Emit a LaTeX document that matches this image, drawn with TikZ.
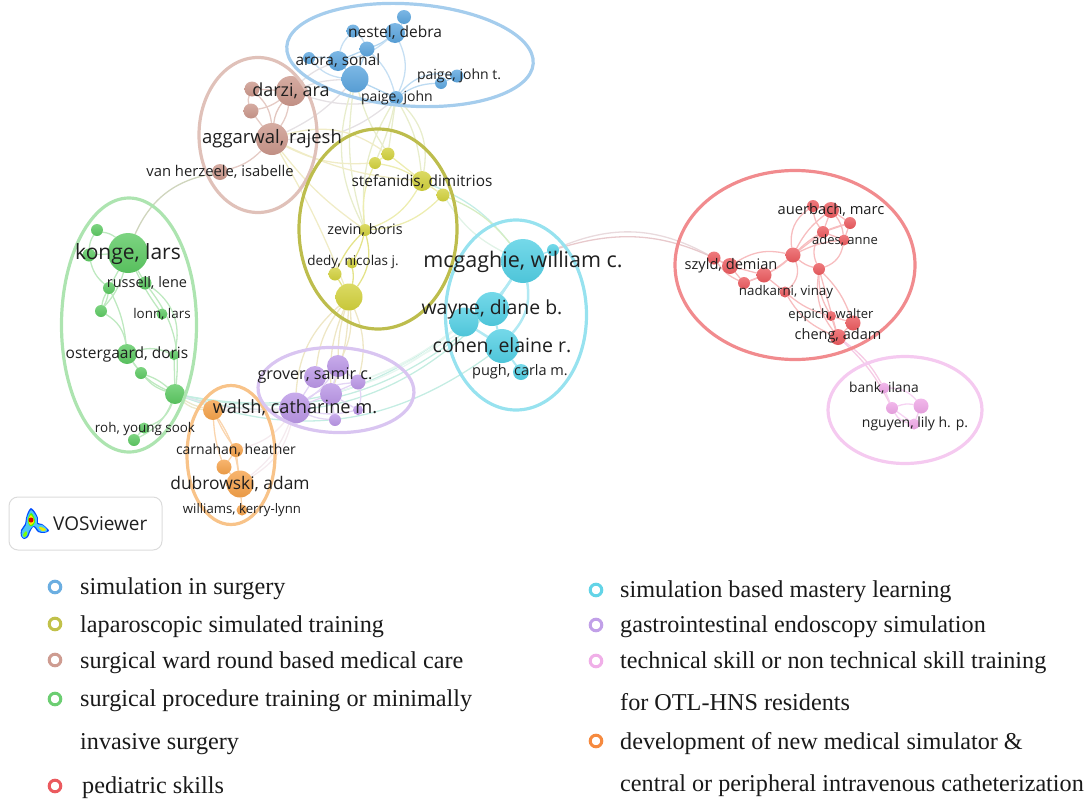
\documentclass[tikz,border=0pt]{standalone}
\usepackage{fontspec}
\setmainfont{Liberation Serif}
\newfontfamily\opensans{Open Sans}
\usetikzlibrary{shapes.geometric}
\usetikzlibrary{backgrounds}

\definecolor{cblue}{HTML}{5BA5DE}
\definecolor{cyellow}{HTML}{D2D13C}
\definecolor{cbrown}{HTML}{CB978B}
\definecolor{cgreen}{HTML}{5CC962}
\definecolor{cred}{HTML}{EB5A5E}
\definecolor{ccyan}{HTML}{52CFE4}
\definecolor{cpurple}{HTML}{BA96E6}
\definecolor{corange}{HTML}{F5A24A}
\definecolor{cpink}{HTML}{EEA6E6}

\tikzset{
  bub/.style={circle, inner sep=0pt, outer sep=0pt, draw=none, minimum size=#1},
  bblue/.style={bub=#1, top color=cblue!80!white, bottom color=cblue!95!black},
  byellow/.style={bub=#1, top color=cyellow!80!white, bottom color=cyellow!95!black},
  bbrown/.style={bub=#1, top color=cbrown!80!white, bottom color=cbrown!95!black},
  bgreen/.style={bub=#1, top color=cgreen!80!white, bottom color=cgreen!95!black},
  bred/.style={bub=#1, top color=cred!80!white, bottom color=cred!95!black},
  bcyan/.style={bub=#1, top color=ccyan!80!white, bottom color=ccyan!95!black},
  bpurple/.style={bub=#1, top color=cpurple!80!white, bottom color=cpurple!95!black},
  borange/.style={bub=#1, top color=corange!80!white, bottom color=corange!95!black},
  bpink/.style={bub=#1, top color=cpink!80!white, bottom color=cpink!95!black},
  ring/.style={ellipse, inner sep=0pt, outer sep=0pt, line width=3.2pt, draw=#1},
  lab/.style={inner sep=0pt, text=black!88, font={\opensans\fontsize{#1}{#1}\selectfont}},
  lnk/.style={line width=1.3pt, draw=#1},
  legdot/.style={circle, inner sep=0pt, minimum size=11.6pt, line width=3pt, draw=#1},
  legtxt/.style={anchor=base west, inner sep=0pt, text=black!90, font=\fontsize{24.2}{24.2}\selectfont},
}

\begin{document}
\begin{tikzpicture}[x=1pt, y=-1pt]
  \useasboundingbox (0,0) rectangle (1084,806);

  % blue
  \node[bblue=14] (btop) at (404,17) {};
  \node[bblue=20] (nestel) at (395,33) {};
  \node[bblue=13] (bleft) at (353,31) {};
  \node[bblue=15] (bmid) at (367,49) {};
  \node[bblue=20] (arora) at (338,61) {};
  \node[bblue=12] (bside) at (309,58) {};
  \node[bblue=27] (bbig) at (355,79) {};
  \node[bblue=14] (paigej) at (396,98) {};
  \node[bblue=13] (paiget) at (457,76) {};
  \node[bblue=12] (paigetb) at (441,83) {};
  % brown
  \node[bbrown=30] (darzi) at (291,91) {};
  \node[bbrown=15] (brup) at (252,89) {};
  \node[bbrown=15] (brlow) at (251,111) {};
  \node[bbrown=32] (aggarwal) at (272,139) {};
  \node[bbrown=16] (herzeele) at (220,172) {};
  % yellow
  \node[byellow=12] (yleft) at (375,163) {};
  \node[byellow=13] (yup) at (388,154) {};
  \node[byellow=20] (stefanidis) at (422,181) {};
  \node[byellow=13] (yright) at (443,195) {};
  \node[byellow=12] (zevin) at (365,230) {};
  \node[byellow=11] (dedy) at (352,263) {};
  \node[byellow=13] (ylow) at (335,274) {};
  \node[byellow=27] (ybig) at (349,297) {};
  % green
  \node[bgreen=12] (gtop) at (97,230) {};
  \node[bgreen=40] (konge) at (128,253) {};
  \node[bgreen=13] (gside) at (89,255) {};
  \node[bgreen=12] (russell) at (109,288) {};
  \node[bgreen=13] (gru) at (145,283) {};
  \node[bgreen=12] (gmid) at (101,311) {};
  \node[bgreen=11] (lonn) at (162,314) {};
  \node[bgreen=20] (ostergaard) at (127,354) {};
  \node[bgreen=10] (gdor) at (174,355) {};
  \node[bgreen=12] (gsub) at (141,373) {};
  \node[bgreen=20] (gbig) at (175,394) {};
  \node[bgreen=11] (roh) at (144,428) {};
  \node[bgreen=12] (rohb) at (134,440) {};
  % orange
  \node[borange=20] (walsho) at (213,410) {};
  \node[borange=14] (carnahan) at (236,450) {};
  \node[borange=15] (oleft) at (224,467) {};
  \node[borange=27] (dubrowski) at (240,484) {};
  \node[borange=11] (williams) at (242,510) {};
  % purple
  \node[bpurple=22] (ptop) at (338,366) {};
  \node[bpurple=22] (grover) at (315,377) {};
  \node[bpurple=15] (pright) at (358,382) {};
  \node[bpurple=22] (pmid) at (331,394) {};
  \node[bpurple=31] (walshp) at (295,408) {};
  \node[bpurple=12] (plow) at (335,420) {};
  \node[bpurple=10] (pend) at (358,410) {};
  % cyan
  \node[bcyan=44] (mcgaghie) at (523,261) {};
  \node[bcyan=12] (csmall) at (553,250) {};
  \node[bcyan=34] (wayne) at (492,309) {};
  \node[bcyan=29] (cleft) at (464,322) {};
  \node[bcyan=34] (cohen) at (502,346) {};
  \node[bcyan=16] (pugh) at (521,372) {};
  % red
  \node[bred=13] (rfar) at (714,258) {};
  \node[bred=16] (szyld) at (730,266) {};
  \node[bred=12] (rlow) at (744,283) {};
  \node[bred=15] (rmid) at (764,275) {};
  \node[bred=15] (rhub) at (793,255) {};
  \node[bred=12] (rhubb) at (819,269) {};
  \node[bred=11] (nadkarni) at (785,292) {};
  \node[bred=12] (rtop) at (813,206) {};
  \node[bred=16] (auerbach) at (831,210) {};
  \node[bred=12] (rside) at (850,223) {};
  \node[bred=12] (rinner) at (823,232) {};
  \node[bred=11] (ades) at (844,240) {};
  \node[bred=10] (eppich) at (831,316) {};
  \node[bred=15] (rpair) at (853,323) {};
  \node[bred=16] (cheng) at (838,337) {};
  % pink
  \node[bpink=11] (bank) at (884,388) {};
  \node[bpink=12] (pkmid) at (892,408) {};
  \node[bpink=15] (pkright) at (921,406) {};
  \node[bpink=11] (nguyen) at (914,424) {};

  \begin{scope}[on background layer]
    % blue links
    \draw[lnk=cblue!35] (nestel) to[bend right=10] (btop);
    \draw[lnk=cblue!45] (nestel) to[bend left=8] (bmid);
    \draw[lnk=cblue!35] (bleft) to[bend left=15] (bmid);
    \draw[lnk=cblue!35] (bleft) to[bend right=15] (arora);
    \draw[lnk=cblue!35] (nestel) to[bend left=15] (arora);
    \draw[lnk=cblue!45] (bmid) -- (arora);
    \draw[lnk=cblue!45] (bmid) -- (bbig);
    \draw[lnk=cblue!45] (arora) -- (bbig);
    \draw[lnk=cblue!35] (bside) to[bend right=20] (bbig);
    \draw[lnk=cblue!35] (bside) to[bend left=10] (arora);
    \draw[lnk=cblue!35] (nestel) to[bend left=25] (paigej);
    \draw[lnk=cblue!35] (bmid) to[bend left=15] (paigej);
    \draw[lnk=cblue!45] (bbig) -- (paigej);
    \draw[lnk=cblue!40] (paigej) to[bend left=30] (paiget);
    \draw[lnk=cblue!40] (paigej) to[bend left=15] (paigetb);
    \draw[lnk=cblue!50] (paiget) -- (paigetb);
    % brown links
    \draw[lnk=cbrown!50] (darzi) -- (brup);
    \draw[lnk=cbrown!50] (darzi) to[bend left=12] (brlow);
    \draw[lnk=cbrown!50] (brup) to[bend right=20] (brlow);
    \draw[lnk=cbrown!50] (brup) to[bend left=20] (aggarwal);
    \draw[lnk=cbrown!50] (brlow) -- (aggarwal);
    \draw[lnk=cbrown!55] (darzi) to[bend right=15] (aggarwal);
    \draw[lnk=cbrown!50] (darzi) to[bend left=12] (aggarwal);
    \draw[lnk=cbrown!50] (herzeele) to[bend right=15] (aggarwal);
    \draw[lnk=cblue!30!cbrown!30] (darzi) to[bend left=10] (arora);
    \draw[lnk=cblue!30!cbrown!30] (darzi) to[bend left=8] (bbig);
    \draw[lnk=cblue!30!cbrown!30] (darzi) to[bend right=15] (paigej);
    \draw[lnk=cblue!30!cbrown!30] (aggarwal) to[bend right=20] (paigej);
    \draw[lnk=cblue!30!cbrown!30] (aggarwal) to[bend right=10] (bbig);
    % blue to yellow
    \draw[lnk=cblue!22!cyellow!32] (bbig) to[bend right=12] (zevin);
    \draw[lnk=cblue!22!cyellow!32] (bbig) to[bend right=22] (zevin);
    \draw[lnk=cblue!22!cyellow!32] (paigej) to[bend right=18] (zevin);
    \draw[lnk=cblue!22!cyellow!32] (paigej) to[bend left=5] (yleft);
    \draw[lnk=cblue!22!cyellow!32] (paigej) -- (yup);
    \draw[lnk=cblue!22!cyellow!32] (paigej) to[bend left=12] (stefanidis);
    \draw[lnk=cblue!22!cyellow!32] (paigej) to[bend left=28] (stefanidis);
    \draw[lnk=cblue!22!cyellow!32] (bbig) to[bend right=8] (yup);
    % brown to yellow
    \draw[lnk=cbrown!25!cyellow!32] (aggarwal) to[bend left=25] (yup);
    \draw[lnk=cbrown!25!cyellow!32] (aggarwal) to[bend right=15] (yleft);
    \draw[lnk=cbrown!25!cyellow!32] (aggarwal) to[bend right=10] (stefanidis);
    \draw[lnk=cbrown!25!cyellow!32] (aggarwal) to[bend right=8] (zevin);
    \draw[lnk=cbrown!25!cyellow!32] (aggarwal) to[bend left=4] (ybig);
    % yellow links
    \draw[lnk=cyellow!40] (yleft) to[bend right=15] (zevin);
    \draw[lnk=cyellow!40] (yup) -- (yleft);
    \draw[lnk=cyellow!40] (yup) -- (stefanidis);
    \draw[lnk=cyellow!40] (yleft) to[bend left=10] (stefanidis);
    \draw[lnk=cyellow!40] (stefanidis) -- (yright);
    \draw[lnk=cyellow!40] (stefanidis) to[bend left=20] (zevin);
    \draw[lnk=cyellow!40] (zevin) to[bend right=20] (yright);
    \draw[lnk=cyellow!60] (zevin) to[bend left=25] (ybig);
    \draw[lnk=cyellow!60] (zevin) to[bend right=10] (ylow);
    \draw[lnk=cyellow!60] (zevin) to[bend left=8] (dedy);
    \draw[lnk=cyellow!60] (dedy) to[bend left=10] (ybig);
    \draw[lnk=cyellow!60] (ylow) -- (ybig);
    % yellow and cyan, across the rings
    \draw[lnk=cgreen!35!ccyan!35] (stefanidis) to[bend left=15] (mcgaghie);
    \draw[lnk=cyellow!40!cgreen!35] (yright) to[bend left=14] (mcgaghie);
    \draw[lnk=cyellow!40!ccyan!25] (yright) to[bend right=15] (mcgaghie);
    % yellow to purple
    \draw[lnk=cbrown!40!cyellow!35] (ybig) to[bend right=22] (walshp);
    \draw[lnk=cbrown!40!cyellow!35] (ybig) to[bend right=15] (grover);
    \draw[lnk=cbrown!40!cyellow!35] (ybig) to[bend right=12] (pmid);
    \draw[lnk=cbrown!40!cyellow!35] (ybig) to[bend right=8] (ptop);
    \draw[lnk=cbrown!40!cyellow!35] (ybig) to[bend left=15] (ptop);
    \draw[lnk=cbrown!40!cyellow!35] (ybig) to[bend left=18] (pright);
    \draw[lnk=cbrown!40!cyellow!35] (ybig) to[bend left=8] (pmid);
    % green links
    \draw[lnk=cgreen!40] (gtop) to[bend left=15] (konge);
    \draw[lnk=cgreen!40] (gtop) to[bend right=15] (gside);
    \draw[lnk=cgreen!40] (gside) -- (konge);
    \draw[lnk=cgreen!40] (gside) to[bend right=18] (russell);
    \draw[lnk=cgreen!40] (konge) -- (russell);
    \draw[lnk=cgreen!40] (konge) -- (gru);
    \draw[lnk=cgreen!40] (konge) to[bend left=12] (gmid);
    \draw[lnk=cgreen!40] (konge) to[bend right=5] (lonn);
    \draw[lnk=cgreen!40] (russell) to[bend left=10] (gmid);
    \draw[lnk=cgreen!40] (russell) to[bend right=10] (gmid);
    \draw[lnk=cgreen!40] (gmid) to[bend left=25] (ostergaard);
    \draw[lnk=cgreen!40] (russell) to[bend left=10] (ostergaard);
    \draw[lnk=cgreen!40] (gru) to[bend left=35] (gdor);
    \draw[lnk=cgreen!40] (gru) to[bend left=22] (gbig);
    \draw[lnk=cgreen!40] (ostergaard) to[bend left=20] (gdor);
    \draw[lnk=cgreen!40] (ostergaard) -- (gsub);
    \draw[lnk=cgreen!40] (ostergaard) to[bend right=15] (gbig);
    \draw[lnk=cgreen!40] (gsub) to[bend left=10] (gbig);
    \draw[lnk=cgreen!40] (gsub) to[bend right=15] (gbig);
    \draw[lnk=cgreen!40] (gdor) -- (gbig);
    \draw[lnk=cgreen!40] (gbig) to[bend left=25] (roh);
    \draw[lnk=cgreen!40] (gbig) to[bend left=20] (rohb);
    \draw[lnk=cgreen!40] (roh) -- (rohb);
    \draw[lnk=cgreen!40!cbrown!50] (konge) to[bend left=28] (herzeele);
    % long green to cyan arcs
    \draw[lnk=cgreen!40!ccyan!35] (gbig) to[bend right=24] (cleft);
    \draw[lnk=cgreen!45!ccyan!35] (gbig) to[bend right=26] (wayne);
    \draw[lnk=cgreen!45!ccyan!35] (gbig) to[bend right=30] (wayne);
    \draw[lnk=cgreen!40!ccyan!35] (gbig) to[bend right=28] (cohen);
    \draw[lnk=cgreen!40!corange!30] (gbig) to[bend right=10] (walsho);
    \draw[lnk=cgreen!40!corange!30] (gbig) to[bend right=20] (walsho);
    \draw[lnk=cgreen!30!cpurple!30] (gbig) to[bend right=10] (walshp);
    % orange links
    \draw[lnk=corange!45] (walsho) to[bend left=12] (dubrowski);
    \draw[lnk=corange!45] (walsho) to[bend right=5] (carnahan);
    \draw[lnk=corange!45] (walsho) to[bend right=8] (oleft);
    \draw[lnk=corange!45] (carnahan) -- (oleft);
    \draw[lnk=corange!45] (carnahan) -- (dubrowski);
    \draw[lnk=corange!45] (oleft) -- (dubrowski);
    \draw[lnk=corange!45] (dubrowski) -- (williams);
    \draw[lnk=corange!35!cpurple!20] (carnahan) to[bend right=18] (walshp);
    \draw[lnk=corange!35!cpurple!20] (dubrowski) to[bend right=15] (walshp);
    \draw[lnk=corange!35!cpurple!20] (dubrowski) to[bend right=22] (walshp);
    \draw[lnk=corange!35!cpurple!20] (walsho) to[bend right=5] (walshp);
    % purple links
    \draw[lnk=cpurple!40] (walshp) -- (grover);
    \draw[lnk=cpurple!40] (walshp) -- (pmid);
    \draw[lnk=cpurple!40] (walshp) to[bend right=10] (ptop);
    \draw[lnk=cpurple!40] (walshp) to[bend right=10] (plow);
    \draw[lnk=cpurple!40] (walshp) to[bend right=12] (pend);
    \draw[lnk=cpurple!40] (walshp) to[bend left=15] (pright);
    \draw[lnk=cpurple!40] (grover) -- (ptop);
    \draw[lnk=cpurple!40] (ptop) -- (pright);
    \draw[lnk=cpurple!40] (pmid) -- (ptop);
    \draw[lnk=cpurple!40] (pmid) -- (pright);
    \draw[lnk=cpurple!40] (pmid) -- (plow);
    \draw[lnk=cpurple!40] (pmid) -- (pend);
    \draw[lnk=cpurple!40] (pright) to[bend left=15] (pend);
    % purple to cyan
    \draw[lnk=ccyan!45!cgreen!15] (pmid) to[bend right=12] (cleft);
    \draw[lnk=ccyan!45!cgreen!15] (pright) to[bend right=8] (cleft);
    \draw[lnk=ccyan!45!cgreen!15] (pright) to[bend right=8] (wayne);
    % cyan links
    \draw[line width=2.5pt, ccyan!45] (mcgaghie) to[bend left=12] (cleft);
    \draw[line width=2.5pt, ccyan!45] (mcgaghie) -- (wayne);
    \draw[line width=2.5pt, ccyan!45] (mcgaghie) to[bend left=25] (cohen);
    \draw[line width=2pt, ccyan!45] (cleft) -- (wayne);
    \draw[line width=2.5pt, ccyan!45] (cleft) -- (cohen);
    \draw[line width=2pt, ccyan!45] (wayne) -- (cohen);
    \draw[line width=2pt, ccyan!45] (cohen) -- (pugh);
    \draw[lnk=ccyan!45] (mcgaghie) -- (csmall);
    % cyan to red
    \draw[lnk=ccyan!35!cred!30] (csmall) to[bend left=26] (rfar);
    \draw[lnk=ccyan!25!cred!40] (csmall) to[bend left=22] (szyld);
    % red links
    \draw[lnk=cred!40] (rfar) -- (szyld);
    \draw[lnk=cred!40] (rfar) to[bend right=15] (rlow);
    \draw[lnk=cred!40] (szyld) -- (rlow);
    \draw[lnk=cred!40] (szyld) -- (rmid);
    \draw[lnk=cred!40] (rlow) -- (rmid);
    \draw[lnk=cred!40] (rmid) to[bend right=8] (rhub);
    \draw[lnk=cred!40] (szyld) to[bend left=22] (rhub);
    \draw[lnk=cred!40] (rlow) to[bend right=10] (rhub);
    \draw[lnk=cred!40] (rmid) -- (nadkarni);
    \draw[lnk=cred!40] (nadkarni) to[bend right=35] (rhub);
    \draw[lnk=cred!40] (rhub) -- (rinner);
    \draw[lnk=cred!40] (rhub) to[bend left=10] (ades);
    \draw[lnk=cred!40] (rhub) to[bend left=14] (rside);
    \draw[lnk=cred!40] (rhub) to[bend left=32] (rtop);
    \draw[lnk=cred!40] (rhub) to[bend left=12] (auerbach);
    \draw[lnk=cred!40] (rhub) to[bend right=12] (rhubb);
    \draw[lnk=cred!40] (rhubb) to[bend right=30] (ades);
    \draw[lnk=cred!40] (rhubb) to[bend left=30] (rinner);
    \draw[lnk=cred!40] (rtop) -- (auerbach);
    \draw[lnk=cred!40] (rtop) to[bend right=15] (rinner);
    \draw[lnk=cred!40] (auerbach) -- (rside);
    \draw[lnk=cred!40] (auerbach) -- (rinner);
    \draw[lnk=cred!40] (auerbach) to[bend left=15] (ades);
    \draw[lnk=cred!40] (rside) -- (rinner);
    \draw[lnk=cred!40] (rside) -- (ades);
    \draw[lnk=cred!40] (rinner) -- (ades);
    \draw[lnk=cred!40] (nadkarni) to[bend right=12] (eppich);
    \draw[lnk=cred!40] (nadkarni) to[bend right=18] (cheng);
    \draw[lnk=cred!40] (rhubb) to[bend right=15] (eppich);
    \draw[lnk=cred!40] (rhubb) -- (cheng);
    \draw[lnk=cred!40] (rhubb) to[bend right=22] (cheng);
    \draw[lnk=cred!40] (rhubb) to[bend left=12] (rpair);
    \draw[lnk=cred!40] (eppich) -- (cheng);
    \draw[lnk=cred!40] (eppich) -- (rpair);
    \draw[lnk=cred!40] (rpair) -- (cheng);
    % red to pink
    \draw[lnk=cred!20!cpink!50] (cheng) to[bend left=12] (bank);
    \draw[lnk=cred!20!cpink!50] (cheng) to[bend left=10] (pkmid);
    % pink links
    \draw[lnk=cpink!50] (bank) -- (pkmid);
    \draw[lnk=cpink!50] (bank) to[bend left=25] (pkright);
    \draw[lnk=cpink!50] (pkmid) to[bend left=15] (pkright);
    \draw[lnk=cpink!50] (pkmid) -- (nguyen);
    \draw[lnk=cpink!50] (pkmid) to[bend right=25] (nguyen);
    \draw[lnk=cpink!50] (pkright) -- (nguyen);
  \end{scope}

  % rings
  \node[ring=cblue!55, minimum width=247pt, minimum height=102pt, rotate=-4] (ringblue) at (410,55) {};
  \node[ring=cbrown!60, minimum width=118pt, minimum height=155pt] (ringbrown) at (258,135) {};
  \node[ring=cyellow!75!gray, minimum width=158pt, minimum height=200pt] (ringyellow) at (378,229) {};
  \node[ring=cgreen!50, minimum width=135pt, minimum height=254pt] (ringgreen) at (129,325) {};
  \node[ring=corange!65, minimum width=88pt, minimum height=139pt] (ringorange) at (231,455) {};
  \node[ring=cpurple!55, minimum width=156pt, minimum height=85pt, rotate=-2] (ringpurple) at (336,390) {};
  \node[ring=ccyan!60, minimum width=141pt, minimum height=190pt] (ringcyan) at (516,315) {};
  \node[ring=cred!70, minimum width=240pt, minimum height=189pt] (ringred) at (795,265) {};
  \node[ring=cpink!60, minimum width=154pt, minimum height=107pt] (ringpink) at (905,410) {};

  % labels
  \node[lab=15.5] (tnestel) at (395,33) {nestel, debra};
  \node[lab=15.4] (tarora) at (338,61) {arora, sonal};
  \node[lab=14] (tpaiget) at (459,76) {paige, john t.};
  \node[lab=14] (tpaigej) at (397,98) {paige, john};
  \node[lab=18] (tdarzi) at (291,91) {darzi, ara};
  \node[lab=18.5] (taggarwal) at (272,139) {aggarwal, rajesh};
  \node[lab=14.8] (therzeele) at (220,172) {van herzeele, isabelle};
  \node[lab=15.4] (tstefanidis) at (422,182) {stefanidis, dimitrios};
  \node[lab=14.4] (tzevin) at (365,230) {zevin, boris};
  \node[lab=13.5] (tdedy) at (353,262) {dedy, nicolas j.};
  \node[lab=21] (tkonge) at (128,254) {konge, lars};
  \node[lab=14.5] (trussell) at (147,283) {russell, lene};
  \node[lab=13.4] (tlonn) at (162,314) {lonn, lars};
  \node[lab=15.5] (tostergaard) at (127,354) {ostergaard, doris};
  \node[lab=13.4] (troh) at (145,429) {roh, young sook};
  \node[lab=16.1] (tgrover) at (315,376) {grover, samir c.};
  \node[lab=18.2] (twalsh) at (295,408) {walsh, catharine m.};
  \node[lab=14] (tcarnahan) at (236,450) {carnahan, heather};
  \node[lab=17.4] (tdubrowski) at (240,484) {dubrowski, adam};
  \node[lab=13.2] (twilliams) at (242,510) {williams, kerry-lynn};
  \node[lab=21.5] (tmcgaghie) at (523,262) {mcgaghie, william c.};
  \node[lab=19.4] (twayne) at (492,309) {wayne, diane b.};
  \node[lab=19.5] (tcohen) at (502,346) {cohen, elaine r.};
  \node[lab=14.5] (tpugh) at (520,372) {pugh, carla m.};
  \node[lab=14.7] (tauerbach) at (831,210) {auerbach, marc};
  \node[lab=13] (tades) at (845,240) {ades, anne};
  \node[lab=14.6] (tszyld) at (731,266) {szyld, demian};
  \node[lab=13.3] (tnadkarni) at (786,292) {nadkarni, vinay};
  \node[lab=13] (teppich) at (831,315) {eppich, walter};
  \node[lab=14.5] (tcheng) at (838,336) {cheng, adam};
  \node[lab=13.8] (tbank) at (884,388) {bank, ilana};
  \node[lab=14] (tnguyen) at (915,424) {nguyen, lily h. p.};

  % logo box
  \node[draw=black!14, line width=1pt, rounded corners=9pt, minimum width=153pt, minimum height=53pt, inner sep=0pt] (logobox) at (85.5,523.5) {};
  \fill[blue!70!cyan] plot[smooth cycle] coordinates {(31,508) (35,512) (38,518) (38,523) (42,524) (47,528) (49,531) (44,533) (38,532) (35,528) (33,527) (30,532) (28,537) (24,539) (21,536) (21,530) (25,524) (26,518) (28,512)};
  \fill[cyan!70!white] plot[smooth cycle] coordinates {(31,510) (34,513) (37,518) (37,524) (42,525) (46,528) (47,531) (44,532) (39,531) (36,527) (33,526) (29,531) (27,536) (24,538) (22,536) (22,531) (26,525) (27,518) (29,513)};
  \fill[green!70!yellow] plot[smooth cycle] coordinates {(31,513) (34,517) (35,522) (32,526) (29,525) (28,519)};
  \fill[yellow!95!red] plot[smooth cycle] coordinates {(31,515) (33,518) (34,522) (31,525) (29,523) (29,518)};
  \fill[yellow!90!green] plot[smooth cycle] coordinates {(39,527) (44,528) (46,530) (42,531)};
  \fill[green!50!yellow] plot[smooth cycle] coordinates {(26,531) (27,534) (25,537) (23,535)};
  \fill[red!85!black] (31,520) circle (2.5pt);
  \node[lab=19, anchor=west] (tlogo) at (53,524) {VOSviewer};

  % legend
  \node[legdot=cblue!90!white] (legblue) at (55,587) {};
  \node[legdot=cyellow!80!gray] (legyellow) at (55,624) {};
  \node[legdot=cbrown!95!white] (legbrown) at (55,660) {};
  \node[legdot=cgreen!90!white] (leggreen) at (55,699) {};
  \node[legdot=cred] (legred) at (55,786) {};
  \node[legdot=ccyan!90!white] (legcyan) at (596,590) {};
  \node[legdot=cpurple!90!white] (legpurple) at (596,625) {};
  \node[legdot=cpink!90!white] (legpink) at (596,661) {};
  \node[legdot=corange!85!red] (legorange) at (596,741) {};

  \node[legtxt] (tblue) at (80,594) {simulation in surgery};
  \node[legtxt] (tyellow) at (80,632) {laparoscopic simulated training};
  \node[legtxt] (tbrown) at (80,668) {surgical ward round based medical care};
  \node[legtxt] (tgreen) at (80,706) {surgical procedure training or minimally};
  \node[legtxt] (tgreenb) at (80,749) {invasive surgery};
  \node[legtxt] (tred) at (82,793) {pediatric skills};
  \node[legtxt] (tcyan) at (620,597) {simulation based mastery learning};
  \node[legtxt] (tpurple) at (620,632) {gastrointestinal endoscopy simulation};
  \node[legtxt] (tpink) at (620,668) {technical skill or non technical skill training};
  \node[legtxt] (tpinkb) at (620,710) {for OTL-HNS residents};
  \node[legtxt] (torange) at (620,749) {development of new medical simulator \&};
  \node[legtxt] (torangeb) at (620,791) {central or peripheral intravenous catheterization};
\end{tikzpicture}
\end{document}
